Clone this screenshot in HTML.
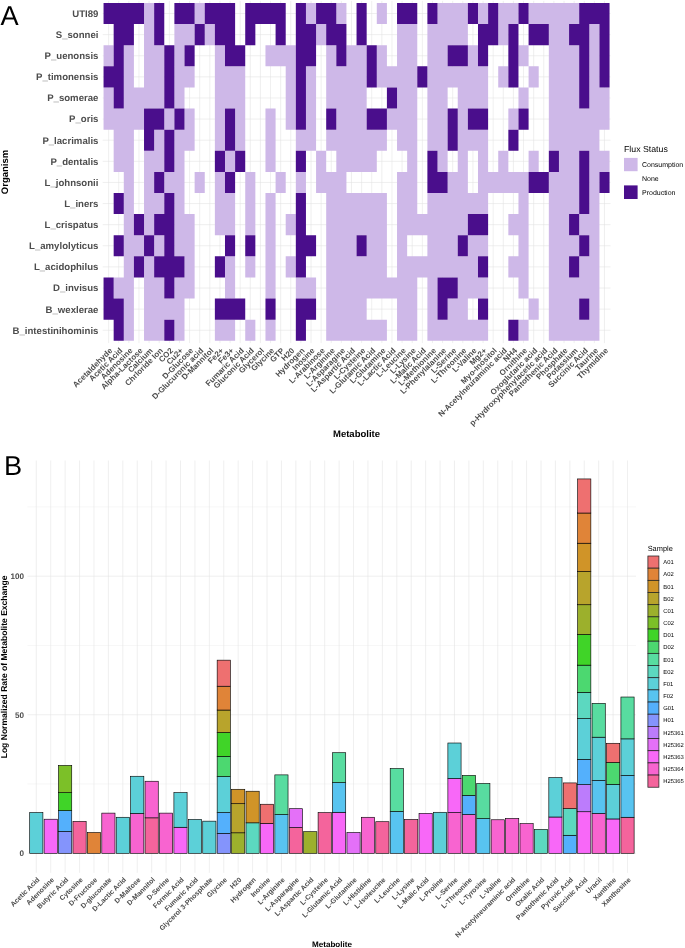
<!DOCTYPE html>
<html lang="en"><head><meta charset="utf-8"><title>Figure</title>
<style>html,body{margin:0;padding:0;background:#fff}svg{display:block;will-change:transform}text{font-family:'Liberation Sans', Arial, Helvetica, sans-serif;text-rendering:geometricPrecision}</style></head><body>
<svg width="685" height="948" viewBox="0 0 685 948">
<g stroke="#E1E1E1" stroke-width="0.55" fill="none">
<line x1="108.61" y1="0.90" x2="108.61" y2="343.10"/>
<line x1="118.73" y1="0.90" x2="118.73" y2="343.10"/>
<line x1="128.85" y1="0.90" x2="128.85" y2="343.10"/>
<line x1="138.97" y1="0.90" x2="138.97" y2="343.10"/>
<line x1="149.09" y1="0.90" x2="149.09" y2="343.10"/>
<line x1="159.21" y1="0.90" x2="159.21" y2="343.10"/>
<line x1="169.33" y1="0.90" x2="169.33" y2="343.10"/>
<line x1="179.45" y1="0.90" x2="179.45" y2="343.10"/>
<line x1="189.57" y1="0.90" x2="189.57" y2="343.10"/>
<line x1="199.69" y1="0.90" x2="199.69" y2="343.10"/>
<line x1="209.81" y1="0.90" x2="209.81" y2="343.10"/>
<line x1="219.93" y1="0.90" x2="219.93" y2="343.10"/>
<line x1="230.05" y1="0.90" x2="230.05" y2="343.10"/>
<line x1="240.17" y1="0.90" x2="240.17" y2="343.10"/>
<line x1="250.29" y1="0.90" x2="250.29" y2="343.10"/>
<line x1="260.41" y1="0.90" x2="260.41" y2="343.10"/>
<line x1="270.53" y1="0.90" x2="270.53" y2="343.10"/>
<line x1="280.65" y1="0.90" x2="280.65" y2="343.10"/>
<line x1="290.77" y1="0.90" x2="290.77" y2="343.10"/>
<line x1="300.89" y1="0.90" x2="300.89" y2="343.10"/>
<line x1="311.01" y1="0.90" x2="311.01" y2="343.10"/>
<line x1="321.13" y1="0.90" x2="321.13" y2="343.10"/>
<line x1="331.25" y1="0.90" x2="331.25" y2="343.10"/>
<line x1="341.37" y1="0.90" x2="341.37" y2="343.10"/>
<line x1="351.49" y1="0.90" x2="351.49" y2="343.10"/>
<line x1="361.61" y1="0.90" x2="361.61" y2="343.10"/>
<line x1="371.73" y1="0.90" x2="371.73" y2="343.10"/>
<line x1="381.85" y1="0.90" x2="381.85" y2="343.10"/>
<line x1="391.97" y1="0.90" x2="391.97" y2="343.10"/>
<line x1="402.09" y1="0.90" x2="402.09" y2="343.10"/>
<line x1="412.21" y1="0.90" x2="412.21" y2="343.10"/>
<line x1="422.33" y1="0.90" x2="422.33" y2="343.10"/>
<line x1="432.45" y1="0.90" x2="432.45" y2="343.10"/>
<line x1="442.57" y1="0.90" x2="442.57" y2="343.10"/>
<line x1="452.69" y1="0.90" x2="452.69" y2="343.10"/>
<line x1="462.81" y1="0.90" x2="462.81" y2="343.10"/>
<line x1="472.93" y1="0.90" x2="472.93" y2="343.10"/>
<line x1="483.05" y1="0.90" x2="483.05" y2="343.10"/>
<line x1="493.17" y1="0.90" x2="493.17" y2="343.10"/>
<line x1="503.29" y1="0.90" x2="503.29" y2="343.10"/>
<line x1="513.41" y1="0.90" x2="513.41" y2="343.10"/>
<line x1="523.53" y1="0.90" x2="523.53" y2="343.10"/>
<line x1="533.65" y1="0.90" x2="533.65" y2="343.10"/>
<line x1="543.77" y1="0.90" x2="543.77" y2="343.10"/>
<line x1="553.89" y1="0.90" x2="553.89" y2="343.10"/>
<line x1="564.01" y1="0.90" x2="564.01" y2="343.10"/>
<line x1="574.13" y1="0.90" x2="574.13" y2="343.10"/>
<line x1="584.25" y1="0.90" x2="584.25" y2="343.10"/>
<line x1="594.37" y1="0.90" x2="594.37" y2="343.10"/>
<line x1="604.49" y1="0.90" x2="604.49" y2="343.10"/>
<line x1="102.70" y1="13.51" x2="610.50" y2="13.51"/>
<line x1="102.70" y1="34.62" x2="610.50" y2="34.62"/>
<line x1="102.70" y1="55.74" x2="610.50" y2="55.74"/>
<line x1="102.70" y1="76.85" x2="610.50" y2="76.85"/>
<line x1="102.70" y1="97.97" x2="610.50" y2="97.97"/>
<line x1="102.70" y1="119.09" x2="610.50" y2="119.09"/>
<line x1="102.70" y1="140.20" x2="610.50" y2="140.20"/>
<line x1="102.70" y1="161.32" x2="610.50" y2="161.32"/>
<line x1="102.70" y1="182.43" x2="610.50" y2="182.43"/>
<line x1="102.70" y1="203.55" x2="610.50" y2="203.55"/>
<line x1="102.70" y1="224.66" x2="610.50" y2="224.66"/>
<line x1="102.70" y1="245.78" x2="610.50" y2="245.78"/>
<line x1="102.70" y1="266.90" x2="610.50" y2="266.90"/>
<line x1="102.70" y1="288.01" x2="610.50" y2="288.01"/>
<line x1="102.70" y1="309.13" x2="610.50" y2="309.13"/>
<line x1="102.70" y1="330.24" x2="610.50" y2="330.24"/>
</g>
<path fill="#CEB8E8" d="M144.03 2.95H154.15V24.07H144.03ZM194.63 2.95H204.75V24.07H194.63ZM305.95 2.95H316.07V24.07H305.95ZM336.31 2.95H346.43V24.07H336.31ZM376.79 2.95H386.91V24.07H376.79ZM437.51 2.95H467.87V24.07H437.51ZM477.99 2.95H488.11V24.07H477.99ZM498.23 2.95H518.47V24.07H498.23ZM528.59 2.95H579.19V24.07H528.59ZM144.03 24.07H154.15V45.18H144.03ZM174.39 24.07H194.63V45.18H174.39ZM204.75 24.07H214.87V45.18H204.75ZM316.07 24.07H326.19V45.18H316.07ZM397.03 24.07H417.27V45.18H397.03ZM427.39 24.07H467.87V45.18H427.39ZM498.23 24.07H508.35V45.18H498.23ZM548.83 24.07H569.07V45.18H548.83ZM589.31 24.07H599.43V45.18H589.31ZM103.55 45.18H113.67V66.30H103.55ZM123.79 45.18H133.91V66.30H123.79ZM144.03 45.18H164.27V66.30H144.03ZM174.39 45.18H184.51V66.30H174.39ZM214.87 45.18H224.99V66.30H214.87ZM265.47 45.18H295.83V66.30H265.47ZM326.19 45.18H336.31V66.30H326.19ZM346.43 45.18H366.67V66.30H346.43ZM376.79 45.18H386.91V66.30H376.79ZM397.03 45.18H417.27V66.30H397.03ZM427.39 45.18H447.63V66.30H427.39ZM467.87 45.18H477.99V66.30H467.87ZM518.47 45.18H528.59V66.30H518.47ZM548.83 45.18H579.19V66.30H548.83ZM589.31 45.18H599.43V66.30H589.31ZM123.79 66.30H133.91V87.41H123.79ZM144.03 66.30H164.27V87.41H144.03ZM174.39 66.30H194.63V87.41H174.39ZM214.87 66.30H245.23V87.41H214.87ZM285.71 66.30H295.83V87.41H285.71ZM305.95 66.30H316.07V87.41H305.95ZM326.19 66.30H366.67V87.41H326.19ZM376.79 66.30H417.27V87.41H376.79ZM427.39 66.30H488.11V87.41H427.39ZM498.23 66.30H508.35V87.41H498.23ZM528.59 66.30H538.71V87.41H528.59ZM548.83 66.30H579.19V87.41H548.83ZM589.31 66.30H599.43V87.41H589.31ZM103.55 87.41H113.67V108.53H103.55ZM123.79 87.41H164.27V108.53H123.79ZM174.39 87.41H184.51V108.53H174.39ZM214.87 87.41H245.23V108.53H214.87ZM285.71 87.41H295.83V108.53H285.71ZM305.95 87.41H316.07V108.53H305.95ZM326.19 87.41H366.67V108.53H326.19ZM397.03 87.41H417.27V108.53H397.03ZM427.39 87.41H447.63V108.53H427.39ZM457.75 87.41H488.11V108.53H457.75ZM518.47 87.41H528.59V108.53H518.47ZM548.83 87.41H579.19V108.53H548.83ZM589.31 87.41H609.55V108.53H589.31ZM103.55 108.53H144.03V129.64H103.55ZM164.27 108.53H174.39V129.64H164.27ZM184.51 108.53H194.63V129.64H184.51ZM214.87 108.53H224.99V129.64H214.87ZM235.11 108.53H245.23V129.64H235.11ZM265.47 108.53H275.59V129.64H265.47ZM285.71 108.53H295.83V129.64H285.71ZM305.95 108.53H316.07V129.64H305.95ZM336.31 108.53H366.67V129.64H336.31ZM386.91 108.53H417.27V129.64H386.91ZM427.39 108.53H447.63V129.64H427.39ZM457.75 108.53H467.87V129.64H457.75ZM508.35 108.53H518.47V129.64H508.35ZM548.83 108.53H609.55V129.64H548.83ZM113.67 129.64H133.91V150.76H113.67ZM154.15 129.64H164.27V150.76H154.15ZM174.39 129.64H194.63V150.76H174.39ZM214.87 129.64H224.99V150.76H214.87ZM235.11 129.64H245.23V150.76H235.11ZM265.47 129.64H275.59V150.76H265.47ZM295.83 129.64H316.07V150.76H295.83ZM326.19 129.64H386.91V150.76H326.19ZM397.03 129.64H417.27V150.76H397.03ZM427.39 129.64H447.63V150.76H427.39ZM457.75 129.64H488.11V150.76H457.75ZM548.83 129.64H599.43V150.76H548.83ZM113.67 150.76H133.91V171.88H113.67ZM144.03 150.76H164.27V171.88H144.03ZM174.39 150.76H184.51V171.88H174.39ZM224.99 150.76H235.11V171.88H224.99ZM265.47 150.76H275.59V171.88H265.47ZM316.07 150.76H326.19V171.88H316.07ZM336.31 150.76H376.79V171.88H336.31ZM407.15 150.76H417.27V171.88H407.15ZM437.51 150.76H447.63V171.88H437.51ZM457.75 150.76H467.87V171.88H457.75ZM477.99 150.76H488.11V171.88H477.99ZM498.23 150.76H508.35V171.88H498.23ZM528.59 150.76H538.71V171.88H528.59ZM558.95 150.76H579.19V171.88H558.95ZM589.31 150.76H609.55V171.88H589.31ZM123.79 171.88H133.91V192.99H123.79ZM144.03 171.88H154.15V192.99H144.03ZM164.27 171.88H184.51V192.99H164.27ZM194.63 171.88H204.75V192.99H194.63ZM214.87 171.88H224.99V192.99H214.87ZM245.23 171.88H255.35V192.99H245.23ZM275.59 171.88H285.71V192.99H275.59ZM295.83 171.88H305.95V192.99H295.83ZM316.07 171.88H346.43V192.99H316.07ZM397.03 171.88H417.27V192.99H397.03ZM447.63 171.88H467.87V192.99H447.63ZM477.99 171.88H528.59V192.99H477.99ZM548.83 171.88H579.19V192.99H548.83ZM589.31 171.88H599.43V192.99H589.31ZM123.79 192.99H133.91V214.11H123.79ZM144.03 192.99H164.27V214.11H144.03ZM174.39 192.99H184.51V214.11H174.39ZM214.87 192.99H235.11V214.11H214.87ZM245.23 192.99H255.35V214.11H245.23ZM265.47 192.99H275.59V214.11H265.47ZM326.19 192.99H386.91V214.11H326.19ZM397.03 192.99H417.27V214.11H397.03ZM427.39 192.99H488.11V214.11H427.39ZM518.47 192.99H528.59V214.11H518.47ZM548.83 192.99H579.19V214.11H548.83ZM589.31 192.99H599.43V214.11H589.31ZM123.79 214.11H133.91V235.22H123.79ZM144.03 214.11H154.15V235.22H144.03ZM174.39 214.11H194.63V235.22H174.39ZM214.87 214.11H235.11V235.22H214.87ZM245.23 214.11H255.35V235.22H245.23ZM265.47 214.11H275.59V235.22H265.47ZM285.71 214.11H295.83V235.22H285.71ZM326.19 214.11H386.91V235.22H326.19ZM397.03 214.11H467.87V235.22H397.03ZM508.35 214.11H528.59V235.22H508.35ZM548.83 214.11H569.07V235.22H548.83ZM579.19 214.11H599.43V235.22H579.19ZM123.79 235.22H144.03V256.34H123.79ZM154.15 235.22H164.27V256.34H154.15ZM174.39 235.22H194.63V256.34H174.39ZM265.47 235.22H275.59V256.34H265.47ZM326.19 235.22H356.55V256.34H326.19ZM366.67 235.22H386.91V256.34H366.67ZM397.03 235.22H407.15V256.34H397.03ZM427.39 235.22H457.75V256.34H427.39ZM467.87 235.22H488.11V256.34H467.87ZM518.47 235.22H528.59V256.34H518.47ZM548.83 235.22H579.19V256.34H548.83ZM589.31 235.22H599.43V256.34H589.31ZM123.79 256.34H133.91V277.45H123.79ZM144.03 256.34H154.15V277.45H144.03ZM184.51 256.34H194.63V277.45H184.51ZM224.99 256.34H235.11V277.45H224.99ZM245.23 256.34H255.35V277.45H245.23ZM265.47 256.34H275.59V277.45H265.47ZM285.71 256.34H295.83V277.45H285.71ZM326.19 256.34H386.91V277.45H326.19ZM397.03 256.34H477.99V277.45H397.03ZM508.35 256.34H528.59V277.45H508.35ZM548.83 256.34H569.07V277.45H548.83ZM579.19 256.34H599.43V277.45H579.19ZM113.67 277.45H133.91V298.57H113.67ZM144.03 277.45H164.27V298.57H144.03ZM174.39 277.45H194.63V298.57H174.39ZM224.99 277.45H235.11V298.57H224.99ZM265.47 277.45H275.59V298.57H265.47ZM295.83 277.45H316.07V298.57H295.83ZM326.19 277.45H417.27V298.57H326.19ZM427.39 277.45H437.51V298.57H427.39ZM457.75 277.45H488.11V298.57H457.75ZM518.47 277.45H528.59V298.57H518.47ZM548.83 277.45H599.43V298.57H548.83ZM123.79 298.57H133.91V319.68H123.79ZM144.03 298.57H184.51V319.68H144.03ZM326.19 298.57H366.67V319.68H326.19ZM397.03 298.57H417.27V319.68H397.03ZM427.39 298.57H437.51V319.68H427.39ZM447.63 298.57H467.87V319.68H447.63ZM528.59 298.57H538.71V319.68H528.59ZM548.83 298.57H579.19V319.68H548.83ZM589.31 298.57H599.43V319.68H589.31ZM123.79 319.68H133.91V340.80H123.79ZM144.03 319.68H164.27V340.80H144.03ZM174.39 319.68H184.51V340.80H174.39ZM214.87 319.68H235.11V340.80H214.87ZM245.23 319.68H255.35V340.80H245.23ZM265.47 319.68H275.59V340.80H265.47ZM326.19 319.68H386.91V340.80H326.19ZM397.03 319.68H417.27V340.80H397.03ZM427.39 319.68H488.11V340.80H427.39ZM518.47 319.68H528.59V340.80H518.47ZM548.83 319.68H599.43V340.80H548.83Z"/>
<path fill="#4A0E8C" d="M103.55 2.95H144.03V24.07H103.55ZM154.15 2.95H164.27V24.07H154.15ZM174.39 2.95H194.63V24.07H174.39ZM204.75 2.95H235.11V24.07H204.75ZM245.23 2.95H285.71V24.07H245.23ZM295.83 2.95H305.95V24.07H295.83ZM316.07 2.95H336.31V24.07H316.07ZM356.55 2.95H366.67V24.07H356.55ZM397.03 2.95H417.27V24.07H397.03ZM427.39 2.95H437.51V24.07H427.39ZM467.87 2.95H477.99V24.07H467.87ZM488.11 2.95H498.23V24.07H488.11ZM518.47 2.95H528.59V24.07H518.47ZM579.19 2.95H609.55V24.07H579.19ZM113.67 24.07H133.91V45.18H113.67ZM154.15 24.07H164.27V45.18H154.15ZM194.63 24.07H204.75V45.18H194.63ZM214.87 24.07H235.11V45.18H214.87ZM245.23 24.07H255.35V45.18H245.23ZM275.59 24.07H285.71V45.18H275.59ZM295.83 24.07H316.07V45.18H295.83ZM326.19 24.07H346.43V45.18H326.19ZM356.55 24.07H366.67V45.18H356.55ZM477.99 24.07H498.23V45.18H477.99ZM508.35 24.07H518.47V45.18H508.35ZM528.59 24.07H548.83V45.18H528.59ZM569.07 24.07H589.31V45.18H569.07ZM599.43 24.07H609.55V45.18H599.43ZM113.67 45.18H123.79V66.30H113.67ZM164.27 45.18H174.39V66.30H164.27ZM184.51 45.18H194.63V66.30H184.51ZM224.99 45.18H245.23V66.30H224.99ZM295.83 45.18H316.07V66.30H295.83ZM336.31 45.18H346.43V66.30H336.31ZM366.67 45.18H376.79V66.30H366.67ZM447.63 45.18H467.87V66.30H447.63ZM477.99 45.18H488.11V66.30H477.99ZM508.35 45.18H518.47V66.30H508.35ZM579.19 45.18H589.31V66.30H579.19ZM599.43 45.18H609.55V66.30H599.43ZM103.55 66.30H123.79V87.41H103.55ZM164.27 66.30H174.39V87.41H164.27ZM295.83 66.30H305.95V87.41H295.83ZM366.67 66.30H376.79V87.41H366.67ZM417.27 66.30H427.39V87.41H417.27ZM508.35 66.30H518.47V87.41H508.35ZM579.19 66.30H589.31V87.41H579.19ZM599.43 66.30H609.55V87.41H599.43ZM113.67 87.41H123.79V108.53H113.67ZM164.27 87.41H174.39V108.53H164.27ZM295.83 87.41H305.95V108.53H295.83ZM386.91 87.41H397.03V108.53H386.91ZM579.19 87.41H589.31V108.53H579.19ZM144.03 108.53H164.27V129.64H144.03ZM174.39 108.53H184.51V129.64H174.39ZM224.99 108.53H235.11V129.64H224.99ZM295.83 108.53H305.95V129.64H295.83ZM326.19 108.53H336.31V129.64H326.19ZM366.67 108.53H386.91V129.64H366.67ZM447.63 108.53H457.75V129.64H447.63ZM467.87 108.53H488.11V129.64H467.87ZM518.47 108.53H528.59V129.64H518.47ZM144.03 129.64H154.15V150.76H144.03ZM164.27 129.64H174.39V150.76H164.27ZM224.99 129.64H235.11V150.76H224.99ZM447.63 129.64H457.75V150.76H447.63ZM508.35 129.64H518.47V150.76H508.35ZM164.27 150.76H174.39V171.88H164.27ZM214.87 150.76H224.99V171.88H214.87ZM235.11 150.76H245.23V171.88H235.11ZM295.83 150.76H305.95V171.88H295.83ZM427.39 150.76H437.51V171.88H427.39ZM548.83 150.76H558.95V171.88H548.83ZM579.19 150.76H589.31V171.88H579.19ZM154.15 171.88H164.27V192.99H154.15ZM224.99 171.88H235.11V192.99H224.99ZM427.39 171.88H447.63V192.99H427.39ZM528.59 171.88H548.83V192.99H528.59ZM579.19 171.88H589.31V192.99H579.19ZM599.43 171.88H609.55V192.99H599.43ZM113.67 192.99H123.79V214.11H113.67ZM164.27 192.99H174.39V214.11H164.27ZM295.83 192.99H305.95V214.11H295.83ZM579.19 192.99H589.31V214.11H579.19ZM133.91 214.11H144.03V235.22H133.91ZM154.15 214.11H174.39V235.22H154.15ZM295.83 214.11H305.95V235.22H295.83ZM467.87 214.11H488.11V235.22H467.87ZM569.07 214.11H579.19V235.22H569.07ZM113.67 235.22H123.79V256.34H113.67ZM144.03 235.22H154.15V256.34H144.03ZM164.27 235.22H174.39V256.34H164.27ZM224.99 235.22H235.11V256.34H224.99ZM245.23 235.22H255.35V256.34H245.23ZM295.83 235.22H316.07V256.34H295.83ZM356.55 235.22H366.67V256.34H356.55ZM457.75 235.22H467.87V256.34H457.75ZM579.19 235.22H589.31V256.34H579.19ZM133.91 256.34H144.03V277.45H133.91ZM154.15 256.34H184.51V277.45H154.15ZM214.87 256.34H224.99V277.45H214.87ZM295.83 256.34H305.95V277.45H295.83ZM477.99 256.34H488.11V277.45H477.99ZM569.07 256.34H579.19V277.45H569.07ZM103.55 277.45H113.67V298.57H103.55ZM164.27 277.45H174.39V298.57H164.27ZM437.51 277.45H457.75V298.57H437.51ZM103.55 298.57H123.79V319.68H103.55ZM214.87 298.57H245.23V319.68H214.87ZM265.47 298.57H275.59V319.68H265.47ZM295.83 298.57H316.07V319.68H295.83ZM437.51 298.57H447.63V319.68H437.51ZM477.99 298.57H488.11V319.68H477.99ZM579.19 298.57H589.31V319.68H579.19ZM113.67 319.68H123.79V340.80H113.67ZM164.27 319.68H174.39V340.80H164.27ZM295.83 319.68H305.95V340.80H295.83ZM508.35 319.68H518.47V340.80H508.35Z"/>
<g font-size="9.6" font-weight="bold" fill="#4D4D4D" text-anchor="end">
<text x="98.4" y="16.91">UTI89</text>
<text x="98.4" y="38.02">S_sonnei</text>
<text x="98.4" y="59.14">P_uenonsis</text>
<text x="98.4" y="80.25">P_timonensis</text>
<text x="98.4" y="101.37">P_somerae</text>
<text x="98.4" y="122.49">P_oris</text>
<text x="98.4" y="143.60">P_lacrimalis</text>
<text x="98.4" y="164.72">P_dentalis</text>
<text x="98.4" y="185.83">L_johnsonii</text>
<text x="98.4" y="206.95">L_iners</text>
<text x="98.4" y="228.06">L_crispatus</text>
<text x="98.4" y="249.18">L_amylolyticus</text>
<text x="98.4" y="270.30">L_acidophilus</text>
<text x="98.4" y="291.41">D_invisus</text>
<text x="98.4" y="312.53">B_wexlerae</text>
<text x="98.4" y="333.64">B_intestinihominis</text>
</g>
<g font-size="8.0" font-weight="bold" fill="#4D4D4D" text-anchor="end">
<text transform="translate(112.81,351.10) rotate(-45)" x="0" y="0">Acetaldehyde</text>
<text transform="translate(122.93,351.10) rotate(-45)" x="0" y="0">Acetic Acid</text>
<text transform="translate(133.05,351.10) rotate(-45)" x="0" y="0">Adenosine</text>
<text transform="translate(143.17,351.10) rotate(-45)" x="0" y="0">Alpha-Lactose</text>
<text transform="translate(153.29,351.10) rotate(-45)" x="0" y="0">Calcium</text>
<text transform="translate(163.41,351.10) rotate(-45)" x="0" y="0">Chrloride Ion</text>
<text transform="translate(173.53,351.10) rotate(-45)" x="0" y="0">CO2</text>
<text transform="translate(183.65,351.10) rotate(-45)" x="0" y="0">Cu2+</text>
<text transform="translate(193.77,351.10) rotate(-45)" x="0" y="0">D-Glucose</text>
<text transform="translate(203.89,351.10) rotate(-45)" x="0" y="0">D-Glucuronic acid</text>
<text transform="translate(214.01,351.10) rotate(-45)" x="0" y="0">D-Mannitol</text>
<text transform="translate(224.13,351.10) rotate(-45)" x="0" y="0">Fe2+</text>
<text transform="translate(234.25,351.10) rotate(-45)" x="0" y="0">Fe3+</text>
<text transform="translate(244.37,351.10) rotate(-45)" x="0" y="0">Fumaric Acid</text>
<text transform="translate(254.49,351.10) rotate(-45)" x="0" y="0">Gluconic Acid</text>
<text transform="translate(264.61,351.10) rotate(-45)" x="0" y="0">Glycerol</text>
<text transform="translate(274.73,351.10) rotate(-45)" x="0" y="0">Glycine</text>
<text transform="translate(284.85,351.10) rotate(-45)" x="0" y="0">GTP</text>
<text transform="translate(294.97,351.10) rotate(-45)" x="0" y="0">H20</text>
<text transform="translate(305.09,351.10) rotate(-45)" x="0" y="0">Hydrogen</text>
<text transform="translate(315.21,351.10) rotate(-45)" x="0" y="0">Inosine</text>
<text transform="translate(325.33,351.10) rotate(-45)" x="0" y="0">L-Arabinose</text>
<text transform="translate(335.45,351.10) rotate(-45)" x="0" y="0">L-Arginine</text>
<text transform="translate(345.57,351.10) rotate(-45)" x="0" y="0">L-Asparagine</text>
<text transform="translate(355.69,351.10) rotate(-45)" x="0" y="0">L-Aspartic Acid</text>
<text transform="translate(365.81,351.10) rotate(-45)" x="0" y="0">L-Cysteine</text>
<text transform="translate(375.93,351.10) rotate(-45)" x="0" y="0">L-Glutamic Acid</text>
<text transform="translate(386.05,351.10) rotate(-45)" x="0" y="0">L-Glutamine</text>
<text transform="translate(396.17,351.10) rotate(-45)" x="0" y="0">L-Lactic Acid</text>
<text transform="translate(406.29,351.10) rotate(-45)" x="0" y="0">L-Leucine</text>
<text transform="translate(416.41,351.10) rotate(-45)" x="0" y="0">L-Lysine</text>
<text transform="translate(426.53,351.10) rotate(-45)" x="0" y="0">L-Malic Acid</text>
<text transform="translate(436.65,351.10) rotate(-45)" x="0" y="0">L-Methionine</text>
<text transform="translate(446.77,351.10) rotate(-45)" x="0" y="0">L-Phenylalanine</text>
<text transform="translate(456.89,351.10) rotate(-45)" x="0" y="0">L-Serine</text>
<text transform="translate(467.01,351.10) rotate(-45)" x="0" y="0">L-Threonine</text>
<text transform="translate(477.13,351.10) rotate(-45)" x="0" y="0">L-Valine</text>
<text transform="translate(487.25,351.10) rotate(-45)" x="0" y="0">Mg2+</text>
<text transform="translate(497.37,351.10) rotate(-45)" x="0" y="0">Myo-Inositol</text>
<text transform="translate(507.49,351.10) rotate(-45)" x="0" y="0">N-Acetylneuraminic acid</text>
<text transform="translate(517.61,351.10) rotate(-45)" x="0" y="0">NH4</text>
<text transform="translate(527.73,351.10) rotate(-45)" x="0" y="0">Ornithine</text>
<text transform="translate(537.85,351.10) rotate(-45)" x="0" y="0">Oxoglutaric acid</text>
<text transform="translate(547.97,351.10) rotate(-45)" x="0" y="0">p-Hydroxyphenylacetic acid</text>
<text transform="translate(558.09,351.10) rotate(-45)" x="0" y="0">Pantothenic Acid</text>
<text transform="translate(568.21,351.10) rotate(-45)" x="0" y="0">Phosphate</text>
<text transform="translate(578.33,351.10) rotate(-45)" x="0" y="0">Potassium</text>
<text transform="translate(588.45,351.10) rotate(-45)" x="0" y="0">Succinic Acid</text>
<text transform="translate(598.57,351.10) rotate(-45)" x="0" y="0">Taurine</text>
<text transform="translate(608.69,351.10) rotate(-45)" x="0" y="0">Thymidine</text>
</g>
<text x="356.5" y="437.3" font-size="9.5" font-weight="bold" fill="#000" text-anchor="middle">Metabolite</text>
<text transform="translate(8.4,172) rotate(-90)" font-size="9.5" font-weight="bold" fill="#000" text-anchor="middle">Organism</text>
<text x="0.5" y="25" font-size="27.2" fill="#000">A</text>
<text x="624" y="152.3" font-size="8.75" fill="#000">Flux Status</text>
<rect x="624" y="157.9" width="13.6" height="13.3" fill="#CEB8E8"/>
<rect x="624" y="185.4" width="13.6" height="13.6" fill="#4A0E8C"/>
<g font-size="7" fill="#000"><text x="642" y="167">Consumption</text><text x="642" y="180.9">None</text><text x="642" y="194.9">Production</text></g>
<g stroke="#E1E1E1" fill="none">
<line x1="27.50" y1="784.02" x2="636.00" y2="784.02" stroke-width="0.3"/>
<line x1="27.50" y1="645.47" x2="636.00" y2="645.47" stroke-width="0.3"/>
<line x1="27.50" y1="506.92" x2="636.00" y2="506.92" stroke-width="0.3"/>
<line x1="27.50" y1="853.30" x2="636.00" y2="853.30" stroke-width="0.55"/>
<line x1="27.50" y1="714.75" x2="636.00" y2="714.75" stroke-width="0.55"/>
<line x1="27.50" y1="576.20" x2="636.00" y2="576.20" stroke-width="0.55"/>
<line x1="36.30" y1="460.50" x2="36.30" y2="872.80" stroke-width="0.55"/>
<line x1="50.72" y1="460.50" x2="50.72" y2="872.80" stroke-width="0.55"/>
<line x1="65.14" y1="460.50" x2="65.14" y2="872.80" stroke-width="0.55"/>
<line x1="79.56" y1="460.50" x2="79.56" y2="872.80" stroke-width="0.55"/>
<line x1="93.98" y1="460.50" x2="93.98" y2="872.80" stroke-width="0.55"/>
<line x1="108.40" y1="460.50" x2="108.40" y2="872.80" stroke-width="0.55"/>
<line x1="122.82" y1="460.50" x2="122.82" y2="872.80" stroke-width="0.55"/>
<line x1="137.24" y1="460.50" x2="137.24" y2="872.80" stroke-width="0.55"/>
<line x1="151.66" y1="460.50" x2="151.66" y2="872.80" stroke-width="0.55"/>
<line x1="166.08" y1="460.50" x2="166.08" y2="872.80" stroke-width="0.55"/>
<line x1="180.50" y1="460.50" x2="180.50" y2="872.80" stroke-width="0.55"/>
<line x1="194.92" y1="460.50" x2="194.92" y2="872.80" stroke-width="0.55"/>
<line x1="209.34" y1="460.50" x2="209.34" y2="872.80" stroke-width="0.55"/>
<line x1="223.76" y1="460.50" x2="223.76" y2="872.80" stroke-width="0.55"/>
<line x1="238.18" y1="460.50" x2="238.18" y2="872.80" stroke-width="0.55"/>
<line x1="252.60" y1="460.50" x2="252.60" y2="872.80" stroke-width="0.55"/>
<line x1="267.02" y1="460.50" x2="267.02" y2="872.80" stroke-width="0.55"/>
<line x1="281.44" y1="460.50" x2="281.44" y2="872.80" stroke-width="0.55"/>
<line x1="295.86" y1="460.50" x2="295.86" y2="872.80" stroke-width="0.55"/>
<line x1="310.28" y1="460.50" x2="310.28" y2="872.80" stroke-width="0.55"/>
<line x1="324.70" y1="460.50" x2="324.70" y2="872.80" stroke-width="0.55"/>
<line x1="339.12" y1="460.50" x2="339.12" y2="872.80" stroke-width="0.55"/>
<line x1="353.54" y1="460.50" x2="353.54" y2="872.80" stroke-width="0.55"/>
<line x1="367.96" y1="460.50" x2="367.96" y2="872.80" stroke-width="0.55"/>
<line x1="382.38" y1="460.50" x2="382.38" y2="872.80" stroke-width="0.55"/>
<line x1="396.80" y1="460.50" x2="396.80" y2="872.80" stroke-width="0.55"/>
<line x1="411.22" y1="460.50" x2="411.22" y2="872.80" stroke-width="0.55"/>
<line x1="425.64" y1="460.50" x2="425.64" y2="872.80" stroke-width="0.55"/>
<line x1="440.06" y1="460.50" x2="440.06" y2="872.80" stroke-width="0.55"/>
<line x1="454.48" y1="460.50" x2="454.48" y2="872.80" stroke-width="0.55"/>
<line x1="468.90" y1="460.50" x2="468.90" y2="872.80" stroke-width="0.55"/>
<line x1="483.32" y1="460.50" x2="483.32" y2="872.80" stroke-width="0.55"/>
<line x1="497.74" y1="460.50" x2="497.74" y2="872.80" stroke-width="0.55"/>
<line x1="512.16" y1="460.50" x2="512.16" y2="872.80" stroke-width="0.55"/>
<line x1="526.58" y1="460.50" x2="526.58" y2="872.80" stroke-width="0.55"/>
<line x1="541.00" y1="460.50" x2="541.00" y2="872.80" stroke-width="0.55"/>
<line x1="555.42" y1="460.50" x2="555.42" y2="872.80" stroke-width="0.55"/>
<line x1="569.84" y1="460.50" x2="569.84" y2="872.80" stroke-width="0.55"/>
<line x1="584.26" y1="460.50" x2="584.26" y2="872.80" stroke-width="0.55"/>
<line x1="598.68" y1="460.50" x2="598.68" y2="872.80" stroke-width="0.55"/>
<line x1="613.10" y1="460.50" x2="613.10" y2="872.80" stroke-width="0.55"/>
<line x1="627.52" y1="460.50" x2="627.52" y2="872.80" stroke-width="0.55"/>
</g>
<g stroke="#000" stroke-width="0.62" fill-opacity="1.00">
<rect x="29.70" y="812.57" width="13.20" height="40.73" fill="#5CD0D8"/>
<rect x="44.12" y="819.22" width="13.20" height="34.08" fill="#F868F8"/>
<rect x="58.54" y="831.41" width="13.20" height="21.89" fill="#8494FC"/>
<rect x="58.54" y="810.63" width="13.20" height="20.78" fill="#54B0FC"/>
<rect x="58.54" y="792.62" width="13.20" height="18.01" fill="#40D428"/>
<rect x="58.54" y="765.46" width="13.20" height="27.16" fill="#7CC028"/>
<rect x="72.96" y="821.43" width="13.20" height="31.87" fill="#F4649C"/>
<rect x="87.38" y="832.52" width="13.20" height="20.78" fill="#E08438"/>
<rect x="101.80" y="813.12" width="13.20" height="40.18" fill="#F864D0"/>
<rect x="116.22" y="817.28" width="13.20" height="36.02" fill="#5CD0D8"/>
<rect x="130.64" y="813.40" width="13.20" height="39.90" fill="#F864D0"/>
<rect x="130.64" y="776.27" width="13.20" height="37.13" fill="#5CD0D8"/>
<rect x="145.06" y="817.83" width="13.20" height="35.47" fill="#F4649C"/>
<rect x="145.06" y="781.25" width="13.20" height="36.58" fill="#F864D0"/>
<rect x="159.48" y="813.12" width="13.20" height="40.18" fill="#F864D0"/>
<rect x="173.90" y="827.25" width="13.20" height="26.05" fill="#F868F8"/>
<rect x="173.90" y="792.62" width="13.20" height="34.64" fill="#5CD0D8"/>
<rect x="188.32" y="819.49" width="13.20" height="33.81" fill="#5CD0D8"/>
<rect x="202.74" y="821.16" width="13.20" height="32.14" fill="#5CD0D8"/>
<rect x="217.16" y="833.35" width="13.20" height="19.95" fill="#8494FC"/>
<rect x="217.16" y="812.57" width="13.20" height="20.78" fill="#54B0FC"/>
<rect x="217.16" y="776.54" width="13.20" height="36.02" fill="#5CD0D8"/>
<rect x="217.16" y="756.31" width="13.20" height="20.23" fill="#4CD870"/>
<rect x="217.16" y="732.48" width="13.20" height="23.83" fill="#40D428"/>
<rect x="217.16" y="710.04" width="13.20" height="22.45" fill="#B8A42C"/>
<rect x="217.16" y="686.21" width="13.20" height="23.83" fill="#E08438"/>
<rect x="217.16" y="660.16" width="13.20" height="26.05" fill="#EE7070"/>
<rect x="231.58" y="832.79" width="13.20" height="20.51" fill="#9CB02C"/>
<rect x="231.58" y="803.70" width="13.20" height="29.10" fill="#B8A42C"/>
<rect x="231.58" y="789.29" width="13.20" height="14.41" fill="#D09428"/>
<rect x="246.00" y="822.82" width="13.20" height="30.48" fill="#5CD8C0"/>
<rect x="246.00" y="791.23" width="13.20" height="31.59" fill="#D09428"/>
<rect x="260.42" y="823.37" width="13.20" height="29.93" fill="#F868F8"/>
<rect x="260.42" y="804.25" width="13.20" height="19.12" fill="#EE7070"/>
<rect x="274.84" y="814.51" width="13.20" height="38.79" fill="#58C4F0"/>
<rect x="274.84" y="774.88" width="13.20" height="39.63" fill="#58DCA0"/>
<rect x="289.26" y="827.53" width="13.20" height="25.77" fill="#F4649C"/>
<rect x="289.26" y="808.69" width="13.20" height="18.84" fill="#E470F8"/>
<rect x="303.68" y="831.69" width="13.20" height="21.61" fill="#9CB02C"/>
<rect x="318.10" y="812.57" width="13.20" height="40.73" fill="#F4649C"/>
<rect x="332.52" y="812.29" width="13.20" height="41.01" fill="#F868F8"/>
<rect x="332.52" y="782.64" width="13.20" height="29.65" fill="#58C4F0"/>
<rect x="332.52" y="752.71" width="13.20" height="29.93" fill="#58DCA0"/>
<rect x="346.94" y="832.52" width="13.20" height="20.78" fill="#E470F8"/>
<rect x="361.36" y="817.28" width="13.20" height="36.02" fill="#F864D0"/>
<rect x="375.78" y="821.71" width="13.20" height="31.59" fill="#F4649C"/>
<rect x="390.20" y="811.46" width="13.20" height="41.84" fill="#58C4F0"/>
<rect x="390.20" y="768.51" width="13.20" height="42.95" fill="#58DCA0"/>
<rect x="404.62" y="819.49" width="13.20" height="33.81" fill="#F4649C"/>
<rect x="419.04" y="813.40" width="13.20" height="39.90" fill="#F868F8"/>
<rect x="433.46" y="812.29" width="13.20" height="41.01" fill="#5CD0D8"/>
<rect x="447.88" y="812.57" width="13.20" height="40.73" fill="#F864D0"/>
<rect x="447.88" y="778.48" width="13.20" height="34.08" fill="#F868F8"/>
<rect x="447.88" y="743.01" width="13.20" height="35.47" fill="#5CD0D8"/>
<rect x="462.30" y="814.51" width="13.20" height="38.79" fill="#F864D0"/>
<rect x="462.30" y="795.39" width="13.20" height="19.12" fill="#54B0FC"/>
<rect x="462.30" y="775.43" width="13.20" height="19.95" fill="#4CD870"/>
<rect x="476.72" y="818.66" width="13.20" height="34.64" fill="#58C4F0"/>
<rect x="476.72" y="783.47" width="13.20" height="35.19" fill="#58DCA0"/>
<rect x="491.14" y="819.77" width="13.20" height="33.53" fill="#F864D0"/>
<rect x="505.56" y="818.39" width="13.20" height="34.91" fill="#F864D0"/>
<rect x="519.98" y="823.65" width="13.20" height="29.65" fill="#F864D0"/>
<rect x="534.40" y="829.47" width="13.20" height="23.83" fill="#5CD8C0"/>
<rect x="548.82" y="817.00" width="13.20" height="36.30" fill="#F868F8"/>
<rect x="548.82" y="777.65" width="13.20" height="39.35" fill="#5CD0D8"/>
<rect x="563.24" y="835.29" width="13.20" height="18.01" fill="#54B0FC"/>
<rect x="563.24" y="808.69" width="13.20" height="26.60" fill="#5CD8C0"/>
<rect x="563.24" y="782.92" width="13.20" height="25.77" fill="#EE7070"/>
<rect x="577.66" y="811.73" width="13.20" height="41.56" fill="#F868F8"/>
<rect x="577.66" y="784.58" width="13.20" height="27.16" fill="#BC7CFC"/>
<rect x="577.66" y="759.36" width="13.20" height="25.22" fill="#54B0FC"/>
<rect x="577.66" y="718.63" width="13.20" height="40.73" fill="#5CD0D8"/>
<rect x="577.66" y="692.30" width="13.20" height="26.32" fill="#5CD8C0"/>
<rect x="577.66" y="665.15" width="13.20" height="27.16" fill="#4CD870"/>
<rect x="577.66" y="634.39" width="13.20" height="30.76" fill="#40D428"/>
<rect x="577.66" y="604.74" width="13.20" height="29.65" fill="#9CB02C"/>
<rect x="577.66" y="571.49" width="13.20" height="33.25" fill="#B8A42C"/>
<rect x="577.66" y="543.23" width="13.20" height="28.26" fill="#D09428"/>
<rect x="577.66" y="513.02" width="13.20" height="30.20" fill="#E08438"/>
<rect x="577.66" y="478.94" width="13.20" height="34.08" fill="#EE7070"/>
<rect x="592.08" y="813.40" width="13.20" height="39.90" fill="#F864D0"/>
<rect x="592.08" y="780.42" width="13.20" height="32.97" fill="#58C4F0"/>
<rect x="592.08" y="737.20" width="13.20" height="43.23" fill="#5CD0D8"/>
<rect x="592.08" y="703.39" width="13.20" height="33.81" fill="#58DCA0"/>
<rect x="606.50" y="818.94" width="13.20" height="34.36" fill="#F868F8"/>
<rect x="606.50" y="784.30" width="13.20" height="34.64" fill="#5CD0D8"/>
<rect x="606.50" y="762.41" width="13.20" height="21.89" fill="#4CD870"/>
<rect x="606.50" y="743.29" width="13.20" height="19.12" fill="#EE7070"/>
<rect x="620.92" y="817.28" width="13.20" height="36.02" fill="#F4649C"/>
<rect x="620.92" y="775.43" width="13.20" height="41.84" fill="#58C4F0"/>
<rect x="620.92" y="738.86" width="13.20" height="36.58" fill="#5CD0D8"/>
<rect x="620.92" y="697.02" width="13.20" height="41.84" fill="#58DCA0"/>
</g>
<g font-size="8.1" font-weight="bold" fill="#4D4D4D" text-anchor="end">
<text x="23.9" y="856.20">0</text>
<text x="23.9" y="717.65">50</text>
<text x="23.9" y="579.10">100</text>
</g>
<g font-size="7.0" font-weight="bold" fill="#4D4D4D" text-anchor="end">
<text transform="translate(40.00,880.20) rotate(-45)">Acetic Acid</text>
<text transform="translate(54.42,880.20) rotate(-45)">Adenosine</text>
<text transform="translate(68.84,880.20) rotate(-45)">Butyric Acid</text>
<text transform="translate(83.26,880.20) rotate(-45)">Cytosine</text>
<text transform="translate(97.68,880.20) rotate(-45)">D-Fructose</text>
<text transform="translate(112.10,880.20) rotate(-45)">D-gluconate</text>
<text transform="translate(126.52,880.20) rotate(-45)">D-Lactic Acid</text>
<text transform="translate(140.94,880.20) rotate(-45)">D-Maltose</text>
<text transform="translate(155.36,880.20) rotate(-45)">D-Mannitol</text>
<text transform="translate(169.78,880.20) rotate(-45)">D-Serine</text>
<text transform="translate(184.20,880.20) rotate(-45)">Formic Acid</text>
<text transform="translate(198.62,880.20) rotate(-45)">Fumaric Acid</text>
<text transform="translate(213.04,880.20) rotate(-45)">Glycerol 3-Phosphate</text>
<text transform="translate(227.46,880.20) rotate(-45)">Glycine</text>
<text transform="translate(241.88,880.20) rotate(-45)">H20</text>
<text transform="translate(256.30,880.20) rotate(-45)">Hydrogen</text>
<text transform="translate(270.72,880.20) rotate(-45)">Inosine</text>
<text transform="translate(285.14,880.20) rotate(-45)">L-Arginine</text>
<text transform="translate(299.56,880.20) rotate(-45)">L-Asparagine</text>
<text transform="translate(313.98,880.20) rotate(-45)">L-Aspartic Acid</text>
<text transform="translate(328.40,880.20) rotate(-45)">L-Cysteine</text>
<text transform="translate(342.82,880.20) rotate(-45)">L-Glutamic Acid</text>
<text transform="translate(357.24,880.20) rotate(-45)">L-Glutamine</text>
<text transform="translate(371.66,880.20) rotate(-45)">L-Histidine</text>
<text transform="translate(386.08,880.20) rotate(-45)">L-Isoleucine</text>
<text transform="translate(400.50,880.20) rotate(-45)">L-Leucine</text>
<text transform="translate(414.92,880.20) rotate(-45)">L-Lysine</text>
<text transform="translate(429.34,880.20) rotate(-45)">L-Malic Acid</text>
<text transform="translate(443.76,880.20) rotate(-45)">L-Proline</text>
<text transform="translate(458.18,880.20) rotate(-45)">L-Serine</text>
<text transform="translate(472.60,880.20) rotate(-45)">L-Threonine</text>
<text transform="translate(487.02,880.20) rotate(-45)">L-Tyrosine</text>
<text transform="translate(501.44,880.20) rotate(-45)">L-Valine</text>
<text transform="translate(515.86,880.20) rotate(-45)">N-Acetylneuraminic acid</text>
<text transform="translate(530.28,880.20) rotate(-45)">Ornithine</text>
<text transform="translate(544.70,880.20) rotate(-45)">Oxalic Acid</text>
<text transform="translate(559.12,880.20) rotate(-45)">Pantothenic Acid</text>
<text transform="translate(573.54,880.20) rotate(-45)">Pyruvic Acid</text>
<text transform="translate(587.96,880.20) rotate(-45)">Succinic Acid</text>
<text transform="translate(602.38,880.20) rotate(-45)">Uracil</text>
<text transform="translate(616.80,880.20) rotate(-45)">Xanthine</text>
<text transform="translate(631.22,880.20) rotate(-45)">Xanthosine</text>
</g>
<text x="332" y="947" font-size="8.1" font-weight="bold" fill="#000" text-anchor="middle">Metabolite</text>
<text transform="translate(7.2,666.9) rotate(-90)" font-size="8.55" font-weight="bold" fill="#000" text-anchor="middle">Log Normalized Rate of Metabolite Exchange</text>
<text x="4.0" y="475" font-size="27.2" fill="#000">B</text>
<text x="647.7" y="551.3" font-size="7.4" fill="#000">Sample</text>
<g stroke="#000" stroke-width="0.5" fill-opacity="1.00">
<rect x="647.9" y="556.00" width="11" height="12.17" fill="#EE7070" stroke-width="0.75" stroke="#222"/>
<rect x="647.9" y="568.17" width="11" height="12.17" fill="#E08438" stroke-width="0.75" stroke="#222"/>
<rect x="647.9" y="580.34" width="11" height="12.17" fill="#D09428" stroke-width="0.75" stroke="#222"/>
<rect x="647.9" y="592.51" width="11" height="12.17" fill="#B8A42C" stroke-width="0.75" stroke="#222"/>
<rect x="647.9" y="604.68" width="11" height="12.17" fill="#9CB02C" stroke-width="0.75" stroke="#222"/>
<rect x="647.9" y="616.85" width="11" height="12.17" fill="#7CC028" stroke-width="0.75" stroke="#222"/>
<rect x="647.9" y="629.02" width="11" height="12.17" fill="#40D428" stroke-width="0.75" stroke="#222"/>
<rect x="647.9" y="641.19" width="11" height="12.17" fill="#4CD870" stroke-width="0.75" stroke="#222"/>
<rect x="647.9" y="653.36" width="11" height="12.17" fill="#58DCA0" stroke-width="0.75" stroke="#222"/>
<rect x="647.9" y="665.53" width="11" height="12.17" fill="#5CD8C0" stroke-width="0.75" stroke="#222"/>
<rect x="647.9" y="677.70" width="11" height="12.17" fill="#5CD0D8" stroke-width="0.75" stroke="#222"/>
<rect x="647.9" y="689.87" width="11" height="12.17" fill="#58C4F0" stroke-width="0.75" stroke="#222"/>
<rect x="647.9" y="702.04" width="11" height="12.17" fill="#54B0FC" stroke-width="0.75" stroke="#222"/>
<rect x="647.9" y="714.21" width="11" height="12.17" fill="#8494FC" stroke-width="0.75" stroke="#222"/>
<rect x="647.9" y="726.38" width="11" height="12.17" fill="#BC7CFC" stroke-width="0.75" stroke="#222"/>
<rect x="647.9" y="738.55" width="11" height="12.17" fill="#E470F8" stroke-width="0.75" stroke="#222"/>
<rect x="647.9" y="750.72" width="11" height="12.17" fill="#F868F8" stroke-width="0.75" stroke="#222"/>
<rect x="647.9" y="762.89" width="11" height="12.17" fill="#F864D0" stroke-width="0.75" stroke="#222"/>
<rect x="647.9" y="775.06" width="11" height="12.17" fill="#F4649C" stroke-width="0.75" stroke="#222"/>
</g>
<g font-size="5.85" fill="#000">
<text x="663.3" y="564.20">A01</text>
<text x="663.3" y="576.37">A02</text>
<text x="663.3" y="588.54">B01</text>
<text x="663.3" y="600.71">B02</text>
<text x="663.3" y="612.88">C01</text>
<text x="663.3" y="625.05">C02</text>
<text x="663.3" y="637.22">D01</text>
<text x="663.3" y="649.39">D02</text>
<text x="663.3" y="661.56">E01</text>
<text x="663.3" y="673.73">E02</text>
<text x="663.3" y="685.90">F01</text>
<text x="663.3" y="698.07">F02</text>
<text x="663.3" y="710.24">G01</text>
<text x="663.3" y="722.41">H01</text>
<text x="663.3" y="734.58">H25361</text>
<text x="663.3" y="746.75">H25362</text>
<text x="663.3" y="758.92">H25363</text>
<text x="663.3" y="771.09">H25364</text>
<text x="663.3" y="783.26">H25365</text>
</g>
</svg></body></html>
